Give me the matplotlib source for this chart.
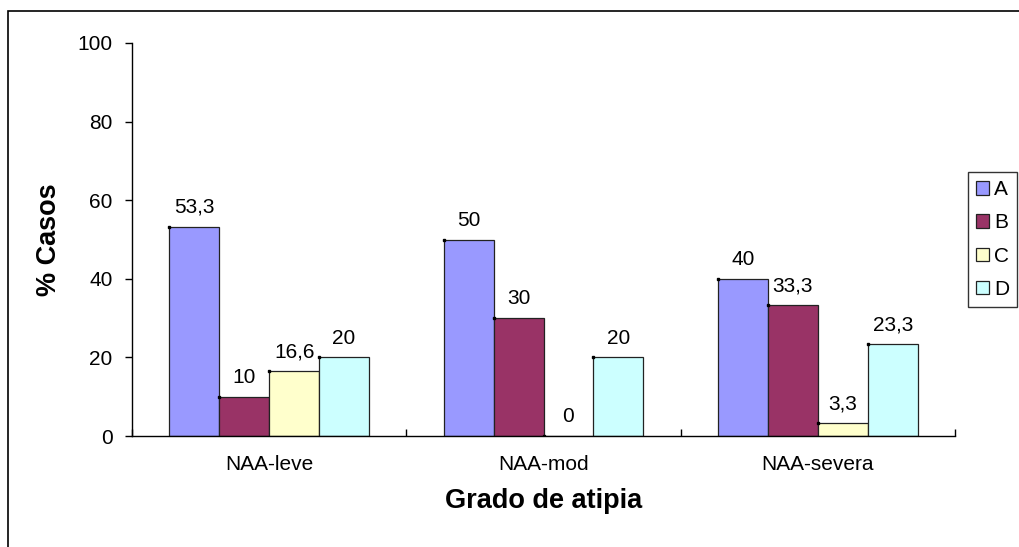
import matplotlib
matplotlib.use("Agg")
import matplotlib.pyplot as plt
from matplotlib.patches import Rectangle
import numpy as np

plt.rcParams['font.family'] = ['Liberation Sans', 'DejaVu Sans']

grupos = ['NAA-leve', 'NAA-mod', 'NAA-severa']
series = ['A', 'B', 'C', 'D']
valores = {
    'A': [53.3, 50, 40],
    'B': [10, 30, 33.3],
    'C': [16.6, 0, 3.3],
    'D': [20, 20, 23.3],
}
colores = ['#9999FF', '#993366', '#FFFFCC', '#CCFFFF']

fs = 15

fig = plt.figure(figsize=(10.2, 5.47), dpi=100)
ax = fig.add_axes([0.1294, 0.2029, 0.8069, 0.7185])

# outer chart frame (only top/left edges fall inside the image)
fig.patches.append(Rectangle((8 / 1020, -0.05), 1.2, 1 - 11 / 547 + 0.05,
                             transform=fig.transFigure, fill=False,
                             edgecolor='black', linewidth=1.2))

x = np.arange(len(grupos))
w = 0.182
for i, (s, c) in enumerate(zip(series, colores)):
    pos = x + (i - 1.5) * w
    bars = ax.bar(pos, valores[s], width=w, color=c, edgecolor='#222222',
                  linewidth=0.9, label=s, zorder=2)
    for b, v in zip(bars, valores[s]):
        ax.plot(b.get_x(), v, marker='s', markersize=2, color='black', zorder=3)
        txt = f"{v:g}".replace('.', ',')
        ax.annotate(txt, (b.get_x() + b.get_width() / 2, v), xytext=(0, 7),
                    textcoords='offset points', ha='center', va='bottom',
                    fontsize=fs)

ax.set_xlim(-0.5, 2.5)
ax.set_ylim(0, 100)
ax.set_yticks(np.arange(0, 101, 20))
ax.tick_params(axis='y', labelsize=fs, length=5, direction='out', width=1, pad=9)
ax.set_xticks(x)
ax.set_xticklabels(grupos, fontsize=fs)
ax.tick_params(axis='x', length=0, pad=14)
ax.set_xticks([-0.5, 0.5, 1.5, 2.5], minor=True)
ax.tick_params(axis='x', which='minor', length=5, direction='in', width=1)

for sp in ['top', 'right']:
    ax.spines[sp].set_visible(False)
ax.spines['left'].set_linewidth(1)
ax.spines['bottom'].set_linewidth(1)

ax.set_ylabel('% Casos', fontsize=19.5, fontweight='bold', labelpad=11)
ax.set_xlabel('Grado de atipia', fontsize=19.5, fontweight='bold', labelpad=10)

leg = ax.legend(loc='center left', bbox_to_anchor=(1.0155, 0.5), fontsize=fs,
                frameon=True, fancybox=False, edgecolor='black',
                handlelength=0.6, handleheight=0.6, handletextpad=0.25,
                labelspacing=0.68, borderpad=0.4, borderaxespad=0)
leg.get_frame().set_linewidth(1)

fig.savefig('out.png', dpi=100)
